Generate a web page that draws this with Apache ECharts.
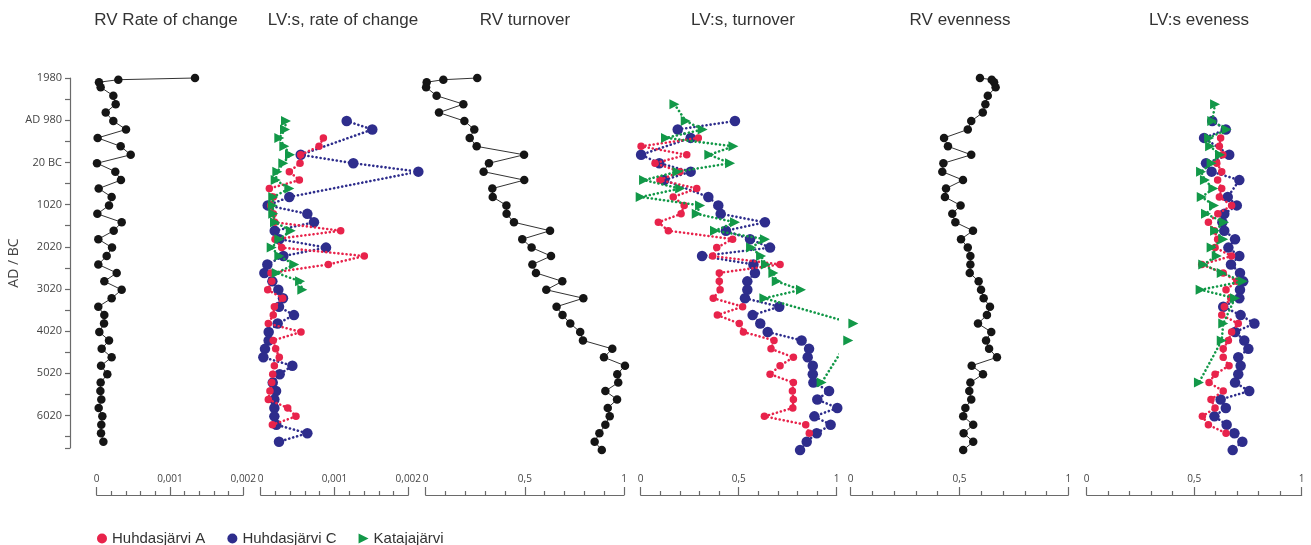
<!DOCTYPE html>
<html><head><meta charset="utf-8">
<script src="https://cdn.jsdelivr.net/npm/echarts@6/dist/echarts.min.js"></script>
<style>html,body{margin:0;padding:0;background:#fff}#c{width:1311px;height:545px}</style>
</head><body><div id="c"></div>
<script>
// ---------- DATA ----------
// y axis: years before 1980 (labels below)
const yTickLabels = ['1980', 'AD 980', '20 BC', '1020', '2020', '3020', '4020', '5020', '6020'];

// regional vegetation (RV) sample ages
const rvAges = [0, 40, 100, 220, 420, 620, 820, 1020, 1220, 1420, 1620, 1820, 2020, 2220, 2420, 2620, 2820, 3020, 3220, 3420, 3620, 3820, 4020, 4220, 4420, 4620, 4820, 5020, 5220, 5420, 5620, 5820, 6020, 6220, 6420, 6620, 6820, 7020, 7220, 7420, 7620, 7820, 8020, 8220, 8420, 8620, 8820];
const rvRateOfChange = [0.001341, 0.000295, 0.000031, 0.000054, 0.000227, 0.000259, 0.000123, 0.000227, 0.000400, 0.000013, 0.000327, 0.000464, 0.000004, 0.000254, 0.000331, 0.000027, 0.000204, 0.000168, 0.000009, 0.000341, 0.000232, 0.000022, 0.000209, 0.000136, 0.000022, 0.000273, 0.000104, 0.000341, 0.000204, 0.000022, 0.000104, 0.000100, 0.000036, 0.000168, 0.000068, 0.000204, 0.000059, 0.000145, 0.000054, 0.000050, 0.000063, 0.000027, 0.000077, 0.000063, 0.000059, 0.000091];
const rvTurnover = [0.260, 0.089, 0.005, 0.002, 0.055, 0.190, 0.067, 0.195, 0.245, 0.222, 0.257, 0.496, 0.319, 0.292, 0.497, 0.336, 0.338, 0.407, 0.408, 0.445, 0.627, 0.487, 0.534, 0.632, 0.538, 0.556, 0.689, 0.608, 0.795, 0.660, 0.690, 0.729, 0.779, 0.793, 0.941, 0.899, 1.005, 0.966, 0.971, 0.906, 0.965, 0.918, 0.928, 0.906, 0.876, 0.852, 0.888];
const rvEvenness = [0.594, 0.648, 0.659, 0.666, 0.630, 0.619, 0.607, 0.554, 0.538, 0.429, 0.447, 0.554, 0.426, 0.421, 0.516, 0.438, 0.433, 0.505, 0.467, 0.481, 0.562, 0.507, 0.538, 0.550, 0.550, 0.547, 0.588, 0.599, 0.611, 0.640, 0.626, 0.585, 0.646, 0.622, 0.636, 0.672, 0.556, 0.608, 0.550, 0.545, 0.554, 0.527, 0.517, 0.563, 0.519, 0.563, 0.517];

// local vegetation (LV) – rate of change
const lvRocAgesA = [1420, 1620, 1820, 2020, 2220, 2420, 2620, 2820, 3020, 3220, 3420, 3620, 3820, 4020, 4220, 4420, 4620, 4820, 5020, 5220, 5420, 5620, 5820, 6020, 6220, 6420, 6620, 6820, 7020, 7220, 7420, 7620, 7820, 8020, 8220];
const lvRocA = [0.000849, 0.000790, 0.000542, 0.000533, 0.000388, 0.000524, 0.000117, 0.000171, 0.000135, 0.000171, 0.000190, 0.001084, 0.000194, 0.000284, 0.001404, 0.000916, 0.000140, 0.000150, 0.000095, 0.000298, 0.000185, 0.000170, 0.000103, 0.000546, 0.000170, 0.000203, 0.000252, 0.000185, 0.000163, 0.000150, 0.000125, 0.000103, 0.000366, 0.000478, 0.000158];
const lvRocAgesC = [1020, 1220, 1820, 2020, 2220, 2820, 3020, 3220, 3420, 3620, 3820, 4020, 4220, 4420, 4620, 4820, 5020, 5220, 5420, 5620, 5820, 6020, 6220, 6420, 6620, 6820, 7020, 7220, 7420, 7620, 7820, 8020, 8220, 8420, 8620];
const lvRocC = [0.001165, 0.001512, 0.000542, 0.001255, 0.002136, 0.000388, 0.000095, 0.000632, 0.000722, 0.000190, 0.000253, 0.000885, 0.000307, 0.000090, 0.000050, 0.000158, 0.000239, 0.000302, 0.000248, 0.000451, 0.000230, 0.000108, 0.000108, 0.000058, 0.000036, 0.000429, 0.000257, 0.000163, 0.000208, 0.000185, 0.000185, 0.000185, 0.000212, 0.000632, 0.000248];
const lvRocAgesK = [1020, 1220, 1420, 1620, 1820, 2020, 2220, 2420, 2620, 2820, 3020, 3220, 3420, 3620, 3820, 4020, 4220, 4420, 4620, 4820, 5020];
const lvRocK = [0.000343, 0.000329, 0.000252, 0.000320, 0.000397, 0.000306, 0.000225, 0.000203, 0.000388, 0.000170, 0.000163, 0.000170, 0.000194, 0.000407, 0.000252, 0.000149, 0.000252, 0.000455, 0.000217, 0.000533, 0.000564];

// LV – turnover and evenness (same sample ages)
const lvAgesA = [1420, 1620, 1820, 2020, 2220, 2420, 2620, 2820, 3020, 3220, 3420, 3620, 3820, 4020, 4220, 4420, 4620, 4820, 5020, 5220, 5420, 5620, 5820, 6020, 6220, 6420, 6620, 6820, 7020, 7220, 7420, 7620, 7820, 8020, 8220, 8420];
const lvAgesC = [1020, 1220, 1420, 1820, 2020, 2220, 2420, 2820, 3020, 3220, 3420, 3620, 3820, 4020, 4220, 4420, 4620, 4820, 5020, 5220, 5420, 5620, 5820, 6020, 6220, 6420, 6620, 6820, 7020, 7220, 7420, 7620, 7820, 8020, 8220, 8420, 8620, 8820];
const lvAgesK = [620, 1020, 1220, 1420, 1620, 1820, 2020, 2220, 2420, 2620, 2820, 3020, 3220, 3420, 3620, 3820, 4020, 4220, 4420, 4620, 4820, 5020, 5220, 5820, 6220, 7220];

const lvTurnA = [0.294, 0.002, 0.235, 0.073, 0.200, 0.098, 0.286, 0.166, 0.222, 0.206, 0.090, 0.141, 0.469, 0.388, 0.367, 0.711, 0.401, 0.401, 0.405, 0.370, 0.520, 0.391, 0.503, 0.524, 0.680, 0.665, 0.779, 0.711, 0.660, 0.779, 0.774, 0.779, 0.776, 0.631, 0.842, 0.860];
const lvTurnC = [0.481, 0.189, 0.255, 0.002, 0.095, 0.255, 0.120, 0.345, 0.396, 0.408, 0.634, 0.435, 0.558, 0.660, 0.313, 0.575, 0.583, 0.544, 0.544, 0.532, 0.707, 0.571, 0.610, 0.648, 0.821, 0.859, 0.852, 0.878, 0.878, 0.881, 0.961, 0.901, 1.003, 0.886, 0.969, 0.898, 0.847, 0.813];
const lvTurnK = [0.172, 0.230, 0.316, 0.129, 0.473, 0.350, 0.456, 0.187, 0.017, 0.201, 0.000, 0.303, 0.286, 0.481, 0.379, 0.634, 0.563, 0.614, 0.639, 0.677, 0.694, 0.818, 0.631, 1.085, 1.059, 0.923];

const lvEvenA = [0.623, 0.617, 0.633, 0.605, 0.628, 0.609, 0.628, 0.617, 0.674, 0.610, 0.566, 0.594, 0.609, 0.597, 0.674, 0.535, 0.635, 0.698, 0.648, 0.670, 0.640, 0.628, 0.705, 0.674, 0.659, 0.635, 0.635, 0.662, 0.597, 0.569, 0.635, 0.578, 0.597, 0.538, 0.566, 0.648];
const lvEvenC = [0.584, 0.647, 0.546, 0.663, 0.555, 0.581, 0.710, 0.656, 0.698, 0.640, 0.631, 0.640, 0.690, 0.659, 0.710, 0.671, 0.713, 0.728, 0.713, 0.710, 0.635, 0.716, 0.780, 0.690, 0.733, 0.752, 0.705, 0.716, 0.705, 0.690, 0.756, 0.623, 0.647, 0.594, 0.651, 0.687, 0.724, 0.679];
const lvEvenK = [0.597, 0.584, 0.651, 0.569, 0.574, 0.620, 0.581, 0.532, 0.550, 0.589, 0.535, 0.592, 0.555, 0.639, 0.597, 0.635, 0.581, 0.605, 0.542, 0.628, 0.726, 0.530, 0.690, 0.635, 0.628, 0.522];

const panelTitles = ['RV Rate of change', 'LV:s, rate of change', 'RV turnover', 'LV:s, turnover', 'RV evenness', 'LV:s eveness'];
const seriesNames = ['Huhdasjärvi A', 'Huhdasjärvi C', 'Katajajärvi'];

// ---------- LAYOUT / STYLE ----------
const RED = '#e8234b', BLUE = '#2e2d8c', GREEN = '#129848', BLACK = '#151515', AXIS = '#6a6a6a';
const panels = [
  {left: 96.7, width: 146.6, max: 0.002, interval: 0.001, tx: 166},
  {left: 260.7, width: 147.6, max: 0.002, interval: 0.001, tx: 343},
  {left: 425.7, width: 198.3, max: 1, interval: 0.5, tx: 525},
  {left: 640.7, width: 196.0, max: 1, interval: 0.5, tx: 743},
  {left: 850.7, width: 217.6, max: 1, interval: 0.5, tx: 960},
  {left: 1086.7, width: 215.0, max: 1, interval: 0.5, tx: 1199}
];
const GRID_TOP = 78, GRID_H = 370, YMAX = 8770;

function pts(xs, ages) { return xs.map((v, i) => [v, ages[i]]); }

function rvSeries(idx, xs, n) {
  return {
    type: 'line', xAxisIndex: idx, yAxisIndex: idx, data: pts(xs, rvAges.slice(0, n)),
    symbol: 'circle', symbolSize: 8.5, clip: false, silent: true,
    itemStyle: {color: BLACK}, lineStyle: {color: '#333', width: 1}, z: 3
  };
}
function lvSeries(idx, which, xs, ages) {
  const base = {
    name: seriesNames[which], type: 'line', xAxisIndex: idx, yAxisIndex: idx,
    data: pts(xs, ages), clip: false, silent: true
  };
  const col = [RED, BLUE, GREEN][which];
  base.itemStyle = {color: col};
  base.lineStyle = {color: col, width: 2.6, type: [0.1, 4], cap: 'round'};
  if (which === 0) { base.symbol = 'circle'; base.symbolSize = 7.5; base.z = 4; }
  if (which === 1) { base.symbol = 'circle'; base.symbolSize = 10.5; base.z = 3; }
  if (which === 2) { base.symbol = 'triangle'; base.symbolSize = [10, 10]; base.symbolRotate = -90; base.z = 5; }
  return base;
}

const option = {
  animation: false,
  backgroundColor: '#fff',
  grid: panels.map(p => ({left: p.left, width: p.width, top: GRID_TOP, height: GRID_H})),
  xAxis: panels.map((p, i) => ({
    type: 'value', gridIndex: i, min: 0, max: p.max, interval: p.interval,
    position: 'bottom', offset: 47,
    axisLine: {show: true, onZero: false, lineStyle: {color: AXIS, width: 1.2}},
    axisTick: {show: true, inside: true, length: 8, lineStyle: {color: AXIS, width: 1.2}},
    minorTick: {show: true, splitNumber: 5, length: 4, lineStyle: {color: AXIS, width: 1.2}},
    axisLabel: {inside: true, margin: 11, showMinLabel: true, showMaxLabel: true, hideOverlap: false,
      formatter: v => String(v).replace('.', ','),
      fontFamily: 'Open Sans', fontSize: 10, color: '#444'},
    splitLine: {show: false}
  })),
  yAxis: panels.map((p, i) => ({
    type: 'value', gridIndex: i, inverse: true, min: 0, max: YMAX, interval: 500,
    show: i === 0, offset: 26.7,
    name: i === 0 ? 'AD / BC' : '', nameLocation: 'middle', nameGap: 42, nameRotate: 90,
    nameTextStyle: {fontFamily: 'Open Sans', fontSize: 14, color: '#444'},
    axisLine: {show: true, onZero: false, lineStyle: {color: AXIS, width: 1.2}},
    axisTick: {show: true, length: 5, lineStyle: {color: AXIS, width: 1.2}},
    axisLabel: {margin: 8, fontFamily: 'Open Sans', fontSize: 11, color: '#444',
      formatter: v => (v % 1000 === 0 && v / 1000 < yTickLabels.length) ? yTickLabels[v / 1000] : ''},
    splitLine: {show: false}
  })),
  legend: {
    left: 92, top: 526, itemWidth: 10, itemHeight: 10, itemGap: 22,
    textStyle: {fontFamily: 'Liberation Sans', fontSize: 15, color: '#333'},
    selectedMode: false,
    data: [
      {name: seriesNames[0], icon: 'circle'},
      {name: seriesNames[1], icon: 'circle'},
      {name: seriesNames[2], icon: 'path://M0,0L10,5L0,10Z'}
    ]
  },
  graphic: panels.map((p, i) => ({
    type: 'text', x: p.tx, y: 20, silent: true,
    style: {text: panelTitles[i], fill: '#333', font: '17px "Liberation Sans", Arial, sans-serif',
      align: 'center', verticalAlign: 'middle'}
  })),
  series: [
    rvSeries(0, rvRateOfChange, rvRateOfChange.length),
    lvSeries(1, 1, lvRocC, lvRocAgesC),
    lvSeries(1, 0, lvRocA, lvRocAgesA),
    lvSeries(1, 2, lvRocK, lvRocAgesK),
    rvSeries(2, rvTurnover, rvTurnover.length),
    lvSeries(3, 1, lvTurnC, lvAgesC),
    lvSeries(3, 0, lvTurnA, lvAgesA),
    lvSeries(3, 2, lvTurnK, lvAgesK),
    rvSeries(4, rvEvenness, rvEvenness.length),
    lvSeries(5, 1, lvEvenC, lvAgesC),
    lvSeries(5, 0, lvEvenA, lvAgesA),
    lvSeries(5, 2, lvEvenK, lvAgesK)
  ]
};
const chart = echarts.init(document.getElementById('c'), null, {renderer: 'canvas'});
chart.setOption(option);
</script>
</body></html>
